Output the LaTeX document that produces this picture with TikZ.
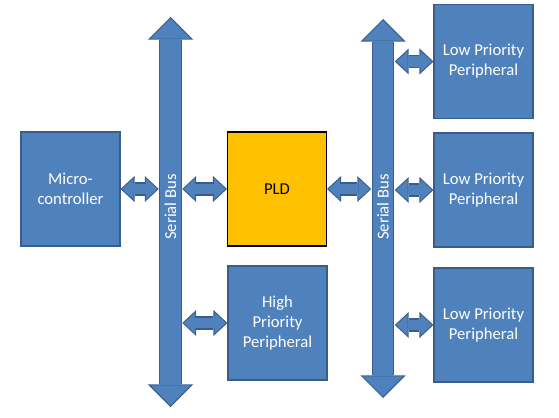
\documentclass[tikz,border=0pt]{standalone}
\usepackage{fontspec}
\setsansfont{Carlito}
\usetikzlibrary{positioning,arrows.meta,calc}
\definecolor{blkfill}{RGB}{79,129,189}
\definecolor{blkedge}{RGB}{56,93,138}
\definecolor{pldfill}{RGB}{255,192,0}

\begin{document}
\begin{tikzpicture}[x=0.75pt,y=-0.75pt,font=\fontsize{12.5}{15}\selectfont\sffamily]
\tikzset{
  BX/.style={draw=blkedge,fill=blkfill,line width=0.8pt,minimum width=74.25pt,minimum height=85.5pt,align=center,text=white,inner sep=2pt},
  PL/.style={BX,draw=black,fill=pldfill,text=black},
  BA/.style={draw=blkfill,line width=8.2pt,shorten <=1.2pt,shorten >=1.2pt,
    arrows={Triangle[width=15.8pt,length=8.5pt,line width=0pt]-Triangle[width=15.8pt,length=8.5pt,line width=0pt]},
    preaction={draw=blkedge,line width=9.8pt,shorten <=0pt,shorten >=0pt,
      arrows={Triangle[width=19.5pt,length=10.5pt,line width=0pt]-Triangle[width=19.5pt,length=10.5pt,line width=0pt]}}},
  BUS/.style={draw=blkfill,line width=15.5pt,shorten <=1.2pt,shorten >=1.2pt,
    arrows={Triangle[width=30pt,length=15pt,line width=0pt]-Triangle[width=30pt,length=15pt,line width=0pt]},
    preaction={draw=blkedge,line width=17.1pt,shorten <=0pt,shorten >=0pt,
      arrows={Triangle[width=34pt,length=17pt,line width=0pt]-Triangle[width=34pt,length=17pt,line width=0pt]}}},
  BL/.style={text=white,rotate=90,inner sep=0pt},
}
\useasboundingbox (0,0) rectangle (559,417);

\node[BX](mcu)  at ( 70.5,189  ){Micro-\\controller};
\node[PL](pld)  at (277.0,189  ){PLD};
\node[BX](hpp)  at (277.5,323  ){High\\Priority\\Peripheral};
\node[BX](lpp1) at (483.5, 61.5){Low Priority\\Peripheral};
\node[BX](lpp2) at (483.5,190  ){Low Priority\\Peripheral};
\node[BX](lpp3) at (483.5,325  ){Low Priority\\Peripheral};

\coordinate (lbtop) at (170.5, 17);
\coordinate (lbbot) at (170.5,407);
\coordinate (rbtop) at (383.0, 19);
\coordinate (rbbot) at (383.0,398);

\draw[BUS](lbbot)--(lbtop);
\draw[BUS](rbbot)--(rbtop);
\node[BL](lbl) at (170.5,207){Serial Bus};
\node[BL](rbl) at (383.0,207){Serial Bus};

\draw[BA](mcu.east)--([xshift=-8.8pt]mcu.east-|lbtop);
\draw[BA]([xshift=8.8pt]pld.west-|lbtop)--(pld.west);
\draw[BA]([xshift=8.8pt]hpp.west-|lbtop)--(hpp.west);
\draw[BA](pld.east)--([xshift=-8.8pt]pld.east-|rbtop);
\draw[BA]([xshift=8.8pt]lpp1.west-|rbtop)--(lpp1.west);
\draw[BA]([xshift=8.8pt]lpp2.west-|rbtop)--(lpp2.west);
\draw[BA]([xshift=8.8pt]lpp3.west-|rbtop)--(lpp3.west);

\end{tikzpicture}
\end{document}
